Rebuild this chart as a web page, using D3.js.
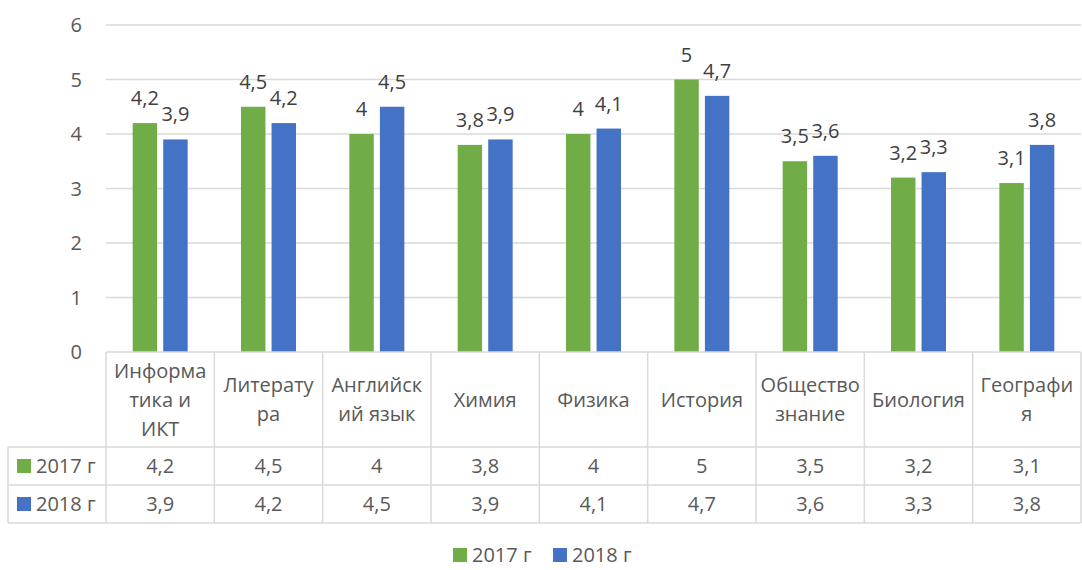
<!DOCTYPE html>
<html>
<head>
<meta charset="utf-8">
<script src="https://cdn.jsdelivr.net/npm/d3@7"></script>
<style>
  body { margin: 0; background: #fff; }
  svg text { font-family: "Open Sans", sans-serif; }
</style>
</head>
<body>
<div class="chart"></div>
<script>
// data
const categories = ["Информатика и ИКТ", "Литература", "Английский язык", "Химия", "Физика", "История", "Обществознание", "Биология", "География"];
const headerLines = [["Информа", "тика и", "ИКТ"], ["Литерату", "ра"], ["Английск", "ий язык"], ["Химия"], ["Физика"], ["История"], ["Общество", "знание"], ["Биология"], ["Географи", "я"]];
const seriesNames = ["2017 г", "2018 г"];
const values2017 = [4.2, 4.5, 4, 3.8, 4, 5, 3.5, 3.2, 3.1];
const values2018 = [3.9, 4.2, 4.5, 3.9, 4.1, 4.7, 3.6, 3.3, 3.8];
const yTicks = [0, 1, 2, 3, 4, 5, 6];
const colors = ["#70ad47", "#4472c4"];

const series = [values2017, values2018];
const W = 1082, H = 570;
const plot = { left: 106, right: 1081, top: 25, bottom: 352 };
const headerBottom = 447, rowH = 38, tableLeft = 8;
const fs = 20;
const fmt = v => String(v).replace(".", ",");

const svg = d3.select(".chart").append("svg")
  .attr("width", W).attr("height", H);

const x = d3.scaleBand().domain(categories).range([plot.left, plot.right]);
const xs = d3.scaleBand().domain([0, 1])
  .range([x.bandwidth() / 2 - 27.5, x.bandwidth() / 2 + 27.5]).paddingInner(0.2);
const y = d3.scaleLinear().domain([0, 6]).range([plot.bottom, plot.top]);

// gridlines
svg.append("g").selectAll("line").data(yTicks.filter(t => t > 0)).enter().append("line")
  .attr("x1", plot.left).attr("x2", plot.right)
  .attr("y1", d => y(d)).attr("y2", d => y(d))
  .attr("stroke", "#d9d9d9").attr("stroke-width", 1.3);

// y labels
svg.append("g").selectAll("text").data(yTicks).enter().append("text")
  .attr("x", 82).attr("y", d => y(d)).attr("dy", "0.35em")
  .attr("text-anchor", "end").attr("font-size", fs).attr("fill", "#595959")
  .text(d => d);

// bars
const groups = svg.append("g").selectAll("g").data(series).enter().append("g")
  .attr("fill", (d, i) => colors[i]);
groups.each(function (vals, si) {
  d3.select(this).selectAll("rect").data(vals).enter().append("rect")
    .attr("x", (d, i) => x(categories[i]) + xs(si))
    .attr("width", xs.bandwidth())
    .attr("y", d => y(d))
    .attr("height", d => y(0) - y(d));
  d3.select(this).selectAll("text").data(vals).enter().append("text")
    .attr("x", (d, i) => x(categories[i]) + xs(si) + xs.bandwidth() / 2)
    .attr("y", d => y(d) - 18)
    .attr("text-anchor", "middle").attr("font-size", fs).attr("fill", "#404040")
    .text(d => fmt(d));
});

// data table
const table = svg.append("g").attr("stroke", "#d9d9d9").attr("stroke-width", 1.5);
const tableBottom = headerBottom + rowH * 2;
table.append("line").attr("x1", plot.left).attr("x2", plot.right).attr("y1", plot.bottom).attr("y2", plot.bottom);
[headerBottom, headerBottom + rowH, tableBottom].forEach(yy => {
  table.append("line").attr("x1", tableLeft).attr("x2", plot.right).attr("y1", yy).attr("y2", yy);
});
x.domain().forEach(c => {
  table.append("line").attr("x1", x(c)).attr("x2", x(c)).attr("y1", plot.bottom).attr("y2", tableBottom);
});
table.append("line").attr("x1", plot.right).attr("x2", plot.right).attr("y1", plot.bottom).attr("y2", tableBottom);
table.append("line").attr("x1", tableLeft).attr("x2", tableLeft).attr("y1", headerBottom).attr("y2", tableBottom);

// header text
const headerMid = (plot.bottom + headerBottom) / 2;
svg.append("g").selectAll("text").data(headerLines).enter().append("text")
  .attr("x", (d, i) => x(categories[i]) + x.bandwidth() / 2)
  .attr("text-anchor", "middle").attr("font-size", fs).attr("fill", "#595959")
  .each(function (lines) {
    const t = d3.select(this);
    lines.forEach((l, k) => {
      t.append("tspan").attr("x", t.attr("x"))
        .attr("y", headerMid + (k - (lines.length - 1) / 2) * 29)
        .attr("dy", "0.35em").text(l);
    });
  });

// rows
series.forEach((vals, si) => {
  const cy = headerBottom + rowH * si + rowH / 2;
  svg.append("rect").attr("x", 17).attr("y", cy - 7).attr("width", 14).attr("height", 14).attr("fill", colors[si]);
  svg.append("text").attr("x", 36).attr("y", cy).attr("dy", "0.35em")
    .attr("font-size", fs).attr("fill", "#595959").text(seriesNames[si]);
  svg.append("g").selectAll("text").data(vals).enter().append("text")
    .attr("x", (d, i) => x(categories[i]) + x.bandwidth() / 2)
    .attr("y", cy).attr("dy", "0.35em")
    .attr("text-anchor", "middle").attr("font-size", fs).attr("fill", "#595959")
    .text(d => fmt(d));
});

// legend
const legend = svg.append("g").attr("transform", "translate(453, 555)");
const legendX = [0, 100];
seriesNames.forEach((n, i) => {
  legend.append("rect").attr("x", legendX[i]).attr("y", -7).attr("width", 14).attr("height", 14).attr("fill", colors[i]);
  legend.append("text").attr("x", legendX[i] + 19).attr("y", 0).attr("dy", "0.35em")
    .attr("font-size", fs).attr("fill", "#595959").text(n);
});
</script>
</body>
</html>
